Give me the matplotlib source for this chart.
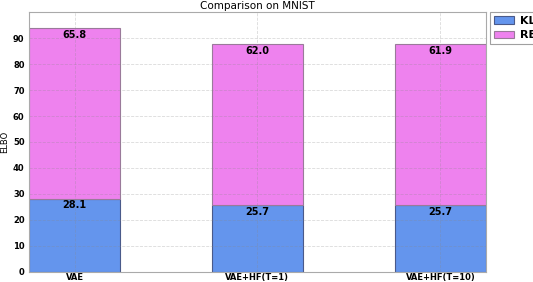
# stacked ELBO bars: KL + RE per model

import matplotlib
matplotlib.use('Agg')
import matplotlib.pyplot as plt
import numpy as np

models = ['VAE', 'VAE+HF(T=1)', 'VAE+HF(T=10)']
kl = [28.1, 25.7, 25.7]
re_ = [65.8, 62.0, 61.9]


def plot_elbo():
    x = np.arange(len(models))
    fig, ax = plt.subplots(figsize=(5.33, 2.82), dpi=100)
    fig.subplots_adjust(left=0.054, right=0.912, bottom=0.036, top=0.957)

    ax.bar(x, kl, width=0.5, color='#6495ED', edgecolor='#4a5a8a', linewidth=0.8, label='KL')
    ax.bar(x, re_, width=0.5, bottom=kl, color='#EE82EE', edgecolor='#9a7a9a', linewidth=0.8, label='RE')

    for i in range(len(models)):
        ax.text(x[i], kl[i] - 0.6, '%.1f' % kl[i], ha='center', va='top', fontsize=7, fontweight='bold')
        ax.text(x[i], kl[i] + re_[i] - 0.6, '%.1f' % re_[i], ha='center', va='top', fontsize=7, fontweight='bold')

    ax.set_xlim(-0.25, 2.25)
    ax.set_ylim(0, 100)
    ax.set_yticks(np.arange(0, 100, 10))
    ax.set_xticks(x)
    ax.set_xticklabels(models)
    for lab in ax.get_xticklabels() + ax.get_yticklabels():
        lab.set_fontweight('bold')
        lab.set_fontsize(6)
    ax.tick_params(axis='x', length=0, pad=0.5)
    ax.tick_params(axis='y', length=0, pad=3)
    ax.set_title('Comparison on MNIST', fontsize=7.5, pad=2)
    ax.set_ylabel('ELBO', fontsize=6, labelpad=3)
    ax.grid(True, linestyle='--', color='#888888', alpha=0.3, linewidth=0.6)
    for s in ax.spines.values():
        s.set_color('#aaaaaa')

    leg = ax.legend(loc='upper left', bbox_to_anchor=(1.008, 1.0), prop={'weight': 'bold', 'size': 8},
                    fancybox=False, edgecolor='#888888', borderaxespad=0, handlelength=1.8,
                    handletextpad=0.6, borderpad=0.35, labelspacing=0.4)
    leg.get_frame().set_linewidth(0.8)

    fig.savefig('out.png', dpi=100)


plot_elbo()
